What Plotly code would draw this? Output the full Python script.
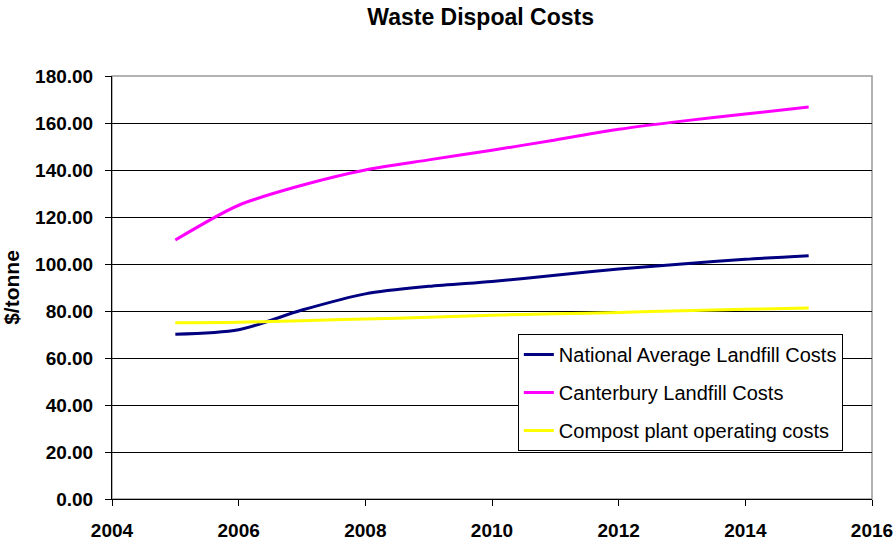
import plotly.graph_objects as go

years = [2005, 2006, 2007, 2008, 2009, 2010, 2011, 2012, 2013, 2014, 2015]
national = [70.1, 72.0, 80.4, 87.3, 90.5, 92.6, 95.2, 97.9, 100.0, 102.0, 103.5]
canterbury = [110.2, 125.0, 133.5, 140.0, 144.3, 148.4, 152.8, 157.3, 160.8, 163.8, 166.8]
compost = [75.0, 75.2, 75.9, 76.6, 77.3, 78.2, 78.8, 79.4, 80.1, 80.7, 81.3]

series_names = ["National Average Landfill Costs", "Canterbury Landfill Costs", "Compost plant operating costs"]
series_colors = ["#000080", "#FF00FF", "#FFFF00"]
y_ticks = [0, 20, 40, 60, 80, 100, 120, 140, 160, 180]
x_ticks = [2004, 2006, 2008, 2010, 2012, 2014, 2016]

FONT = "Arial, Liberation Sans, sans-serif"

fig = go.Figure()
for i, (name, vals, col) in enumerate(zip(series_names, [national, canterbury, compost], series_colors)):
    fig.add_trace(go.Scatter(
        x=years, y=vals, name=name, mode="lines",
        line=dict(color=col, width=3, shape="spline", smoothing=0.8),
        legendgroup=f"g{i}",
    ))

fig.update_layout(
    width=895, height=542,
    margin=dict(l=112, r=23, t=76, b=43, autoexpand=False),
    paper_bgcolor="white", plot_bgcolor="white",
    font=dict(family=FONT, color="black"),
    title=dict(text="<b>Waste Dispoal Costs</b>", x=0.537, xanchor="center", y=0.969, yanchor="middle",
               font=dict(size=23, color="black", family=FONT)),
    showlegend=True,
    legend=dict(x=0.534, y=0.39, xanchor="left", yanchor="top",
                bordercolor="black", borderwidth=1, bgcolor="white",
                font=dict(size=20, color="black", family=FONT), tracegroupgap=9,
                itemwidth=30),
    shapes=[dict(type="rect", xref="paper", yref="paper", x0=0, y0=0, x1=1, y1=1,
                 line=dict(color="#999999", width=1.5), layer="below")],
)

fig.update_xaxes(
    range=[2004, 2016], tickvals=x_ticks, ticktext=[f"<b>{v}</b>" for v in x_ticks],
    showgrid=False, zeroline=False, automargin=False,
    showline=True, linecolor="black", linewidth=1,
    ticks="outside", ticklen=6, tickcolor="black",
    tickfont=dict(size=19, color="black", family=FONT),
    ticklabelstandoff=8,
)
fig.update_yaxes(
    range=[0, 180], tickvals=y_ticks, ticktext=[f"<b>{v:.2f}</b>" for v in y_ticks],
    showgrid=True, gridcolor="black", gridwidth=1, zeroline=False, automargin=False,
    showline=True, linecolor="black", linewidth=1,
    ticks="outside", ticklen=6, tickcolor="black",
    tickfont=dict(size=19, color="black", family=FONT),
    ticklabelstandoff=8,
    title=dict(text="<b>$/tonne</b>", font=dict(size=21, color="black", family=FONT), standoff=12),
)

fig.write_html("out.html")
